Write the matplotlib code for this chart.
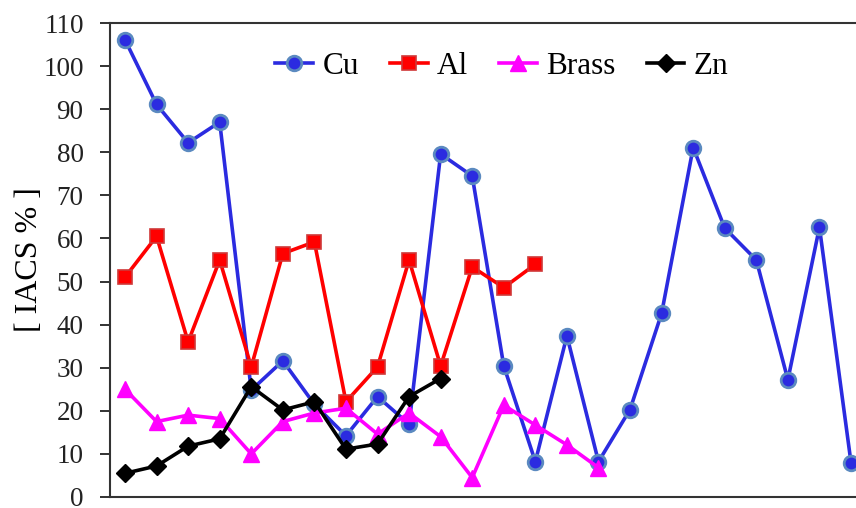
import matplotlib
matplotlib.use("Agg")
import matplotlib.pyplot as plt
import numpy as np

# IACS conductivity per sample, by material
cu = [106.1, 91.1, 82.2, 87.0, 24.8, 31.6, 21.5, 14.2, 23.3, 16.9, 79.6, 74.5,
      30.4, 8.2, 37.4, 8.2, 20.3, 42.6, 81.1, 62.4, 55.0, 27.2, 62.6, 8.0]
al = [51.0, 60.5, 36.0, 55.0, 30.2, 56.5, 59.2, 22.1, 30.2, 55.0, 30.4, 53.4,
      48.6, 54.0]
brass = [25.0, 17.5, 19.0, 18.2, 10.0, 17.5, 19.5, 20.6, 14.6, 19.5, 14.0, 4.5,
         21.3, 16.7, 12.1, 6.8]
zn = [5.5, 7.2, 11.8, 13.5, 25.6, 20.2, 22.1, 11.1, 12.3, 23.3, 27.5]

y_ticks = list(range(0, 111, 10))
y_label = "[ IACS % ]"

plt.rcParams["font.family"] = ["Liberation Serif", "DejaVu Serif"]

fig = plt.figure(figsize=(8.56, 5.08), dpi=100)
ax_left, ax_w = 110 / 856, 1 - 110 / 856
ax = fig.add_axes([ax_left, 11 / 508, ax_w, (497 - 23) / 508])

lw = 2.6
ax.plot(np.arange(len(cu)), cu, color="#2b2be0", lw=lw, marker="o", ms=10.5,
        mfc="#2b2be0", mec="#5b8ac0", mew=2.0, label="Cu", zorder=2)
ax.plot(np.arange(len(al)), al, color="#ff0000", lw=lw, marker="s", ms=10.5,
        mfc="#ff0000", mec="#d03838", mew=1.2, label="Al", zorder=3)
ax.plot(np.arange(len(brass)), brass, color="#ff00ff", lw=lw, marker="^", ms=12,
        mfc="#ff00ff", mec="#ff00ff", mew=1.0, label="Brass", zorder=4)
ax.plot(np.arange(len(zn)), zn, color="#000000", lw=lw, marker="D", ms=9,
        mfc="#000000", mec="#000000", mew=1.0, label="Zn", zorder=5)

ax.set_xlim(-15 / 31.57, 23 + 5 / 31.57)
ax.set_ylim(0, 110)
ax.set_yticks(y_ticks)
ax.set_xticks([])
ax.tick_params(axis="y", direction="out", length=7, width=1.3, pad=12,
               labelsize=19.5, colors="#222222")
for s in ("left", "bottom", "top"):
    ax.spines[s].set_linewidth(1.5)
    ax.spines[s].set_color("#333333")
ax.spines["right"].set_visible(False)

ax.set_ylabel(y_label, fontsize=23)
ax.yaxis.set_label_coords((44 - 110) / (ax_w * 856), 0.5)

ax.legend(loc="center", bbox_to_anchor=(502 / 856, 1 - 66 / 508),
          bbox_transform=fig.transFigure, ncol=4, frameon=False,
          fontsize=22.5, handlelength=1.2, handletextpad=0.3,
          columnspacing=1.0, borderaxespad=0, borderpad=0)

fig.savefig("out.png", dpi=100)
